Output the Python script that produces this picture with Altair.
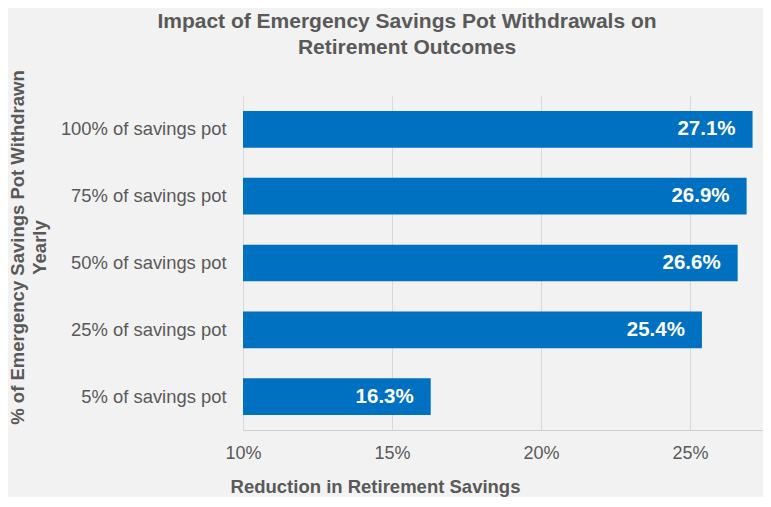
import altair as alt
import pandas as pd

categories = ["100% of savings pot", "75% of savings pot", "50% of savings pot",
              "25% of savings pot", "5% of savings pot"]
values = [0.271, 0.269, 0.266, 0.254, 0.163]
tick_values = [0.10, 0.15, 0.20, 0.25]

df = pd.DataFrame({"category": categories, "value": values})

TEXT = "#595959"
FONT = "Liberation Sans"

x_enc = alt.X(
    "value:Q",
    scale=alt.Scale(domain=[0.10, 0.2745], nice=False, zero=False),
    axis=alt.Axis(
        values=tick_values, format=".0%", grid=True, gridColor="#D9D9D9",
        domainColor="#D0D0D0", ticks=False, labelFontSize=18, labelColor=TEXT,
        labelFont=FONT, labelPadding=14, labelFlush=False,
        title="Reduction in Retirement Savings", titleFont=FONT,
        titleFontSize=18.5, titleFontWeight="bold", titleColor=TEXT,
        titleX=132, titleY=56, titleAlign="center", titleBaseline="middle",
        titleAnchor="start",
    ),
)
y_enc = alt.Y(
    "category:N", sort=categories,
    scale=alt.Scale(paddingInner=0.45, paddingOuter=0.225),
    axis=alt.Axis(
        domain=False, ticks=False, grid=False, labelFontSize=18.4, labelColor=TEXT,
        labelFont=FONT, labelPadding=17,
        title=["% of Emergency Savings Pot Withdrawn", "Yearly"], titleFont=FONT,
        titleFontSize=18.5, titleFontWeight="bold", titleColor=TEXT,
        titleX=-226, titleY=151, titleAlign="center", titleBaseline="middle",
        titleLineHeight=22, titleAngle=-90, titleAnchor="start",
    ),
)

base = alt.Chart(df)
bars = base.mark_bar(color="#0070C0", clip=True).encode(x=x_enc, y=y_enc)
labels = base.mark_text(
    align="right", baseline="middle", dx=-17, color="white",
    fontWeight="bold", fontSize=20.5, font=FONT,
).encode(x="value:Q", y=alt.Y("category:N", sort=categories),
         text=alt.Text("value:Q", format=".1%"))

chart = (bars + labels).properties(
    width=520, height=334,
    background="#F2F2F2",
    autosize=alt.AutoSizeParams(type="none"),
    padding={"left": 235, "top": 88, "right": 0, "bottom": 67},
    title=alt.TitleParams(
        ["Impact of Emergency Savings Pot Withdrawals on", "Retirement Outcomes"],
        font=FONT, fontSize=21, fontWeight="bold", color=TEXT,
        anchor="middle", dx=-96, offset=12, lineHeight=26,
    ),
).configure_view(stroke=None)

chart.save("out.html", embed_options={"renderer": "svg", "actions": False})
